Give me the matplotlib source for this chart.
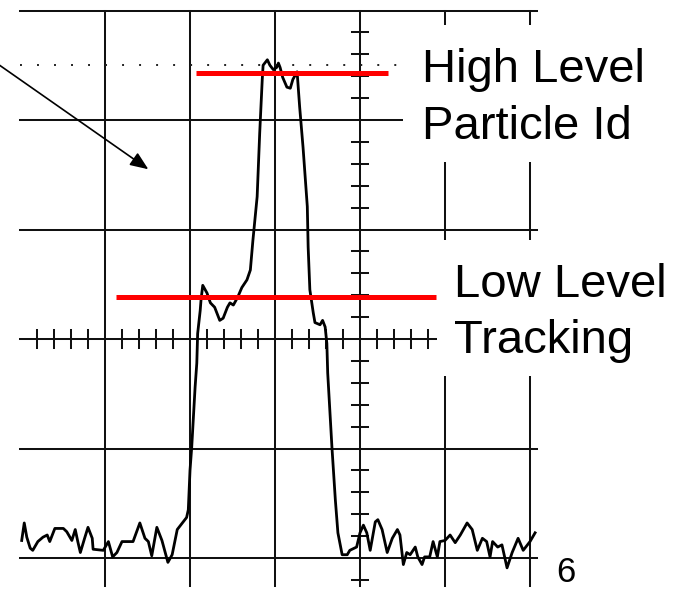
import numpy as np
import matplotlib
matplotlib.use("Agg")
import matplotlib.pyplot as plt
from matplotlib.patches import Rectangle, FancyArrowPatch

# ------------------------------------------------------------------
# DATA (scope divisions, centre of screen = 0,0)
# ------------------------------------------------------------------
t = [-3.98, -3.95, -3.92, -3.88, -3.85, -3.79, -3.73, -3.68, -3.65, -3.59,
     -3.49, -3.45, -3.39, -3.35, -3.32, -3.29, -3.24, -3.20, -3.15, -3.14,
     -3.02, -2.96, -2.91, -2.86, -2.80, -2.67, -2.59, -2.53, -2.49, -2.45,
     -2.39, -2.33, -2.26, -2.21, -2.15, -2.09, -2.04, -2.02, -2.01, -2.00,
     -1.98, -1.96, -1.94, -1.92, -1.91, -1.88, -1.87, -1.85, -1.80, -1.76,
     -1.71, -1.65, -1.61, -1.56, -1.53, -1.49, -1.44, -1.39, -1.33, -1.29,
     -1.26, -1.21, -1.18, -1.15, -1.14, -1.09, -1.06, -1.02, -0.98, -0.96,
     -0.94, -0.91, -0.86, -0.82, -0.79, -0.74, -0.71, -0.67, -0.62, -0.61,
     -0.59, -0.55, -0.53, -0.47, -0.44, -0.41, -0.39, -0.38, -0.33, -0.29,
     -0.26, -0.21, -0.15, -0.12, -0.04, 0.00, 0.04, 0.08, 0.12, 0.18,
     0.21, 0.26, 0.32, 0.38, 0.44, 0.47, 0.51, 0.55, 0.59, 0.65,
     0.68, 0.73, 0.76, 0.82, 0.86, 0.91, 0.94, 1.00, 1.06, 1.12,
     1.18, 1.26, 1.32, 1.38, 1.44, 1.49, 1.53, 1.56, 1.62, 1.67,
     1.73, 1.79, 1.86, 1.92, 2.00, 2.06]
v = [-1.84, -1.68, -1.81, -1.91, -1.93, -1.85, -1.81, -1.79, -1.85, -1.73,
     -1.73, -1.76, -1.84, -1.74, -1.85, -1.95, -1.82, -1.72, -1.82, -1.92,
     -1.93, -1.85, -1.99, -1.95, -1.85, -1.85, -1.68, -1.82, -1.85, -1.98,
     -1.72, -1.84, -2.04, -1.97, -1.74, -1.68, -1.63, -1.56, -1.38, -1.20,
     -0.99, -0.71, -0.44, -0.22, 0.05, 0.26, 0.36, 0.49, 0.42, 0.33,
     0.29, 0.17, 0.19, 0.29, 0.33, 0.31, 0.38, 0.47, 0.54, 0.63,
     0.90, 1.30, 1.88, 2.37, 2.50, 2.55, 2.50, 2.46, 2.48, 2.52,
     2.48, 2.39, 2.30, 2.29, 2.37, 2.44, 2.12, 1.75, 1.21, 0.84,
     0.45, 0.24, 0.15, 0.13, 0.17, 0.11, -0.04, -0.31, -0.99, -1.47,
     -1.77, -1.97, -1.97, -1.93, -1.90, -1.77, -1.70, -1.77, -1.93, -1.67,
     -1.65, -1.74, -1.95, -1.82, -1.74, -1.79, -2.06, -1.95, -1.97, -1.90,
     -1.99, -2.06, -1.99, -1.99, -1.85, -1.99, -1.85, -1.84, -1.79, -1.86,
     -1.79, -1.68, -1.74, -1.93, -1.82, -1.85, -1.99, -1.85, -1.90, -1.88,
     -2.09, -1.95, -1.82, -1.93, -1.85, -1.77]

high_level = 2.43
high_span = (-1.93, 0.33)
low_level = 0.38
low_span = (-2.87, 0.89)
ref_level = 2.5

labels_high = ["High Level", "Particle Id"]
labels_low = ["Low Level", "Tracking"]
page_number = "6"

# ------------------------------------------------------------------
# FIGURE
# ------------------------------------------------------------------
plt.rcParams["font.family"] = ["Liberation Sans", "DejaVu Sans"]

fig = plt.figure(figsize=(6.87, 5.89), dpi=100)
ax = fig.add_axes([0, 0, 1, 1])
ax.set_xlim(-360 / 85, 327 / 85)
ax.set_ylim(-250 / 109.5, 339 / 109.5)
ax.axis("off")

grid_kw = dict(color="#111111", lw=1.45, zorder=1)
x_right = 2.08
y_bottom = -2.26

# major grid
for y in [3, 2, 1, 0, -1, -2]:
    ax.plot([-4, x_right], [y, y], **grid_kw)
for x in [-3, -2, -1, 0, 1, 2]:
    ax.plot([x, x], [y_bottom, 3], **grid_kw)

# minor ticks on centre axes
for x in np.arange(-3.8, 0.85, 0.2):
    if abs(x - round(x)) > 0.05:
        ax.plot([x, x], [-0.085, 0.085], **grid_kw)
for y in np.arange(-2.2, 3.0, 0.2):
    if abs(y - round(y)) > 0.05:
        ax.plot([-0.095, 0.095], [y, y], **grid_kw)

# reference dotted line
ax.plot([-4, 0.45], [ref_level, ref_level], color="#222222", lw=1.4,
        linestyle=(0, (1, 7.75)), zorder=1)

# white boxes behind the labels
ax.add_patch(Rectangle((0.51, 1.62), 4, 1.25, facecolor="white",
                       edgecolor="none", zorder=2))
ax.add_patch(Rectangle((0.91, -0.34), 4, 1.24, facecolor="white",
                       edgecolor="none", zorder=2))

# trace
ax.plot(t, v, color="black", lw=2.0, zorder=3)

# threshold lines
ax.plot(high_span, [high_level, high_level], color="#ff0000", lw=3.6,
        solid_capstyle="butt", zorder=4)
ax.plot(low_span, [low_level, low_level], color="#ff0000", lw=3.6,
        solid_capstyle="butt", zorder=4)

# arrow
arrow = FancyArrowPatch((-4.24, 2.50), (-2.49, 1.55),
                        arrowstyle="-|>,head_length=1.1,head_width=0.45",
                        mutation_scale=10, color="black", lw=1.2,
                        shrinkA=0, shrinkB=0, zorder=5)
ax.add_patch(arrow)

# labels
ax.text(0.73, 2.347, labels_high[0], fontsize=34, va="baseline", zorder=6)
ax.text(0.73, 1.826, labels_high[1], fontsize=34, va="baseline", zorder=6)
ax.text(1.105, 0.384, labels_low[0], fontsize=34, va="baseline", zorder=6)
ax.text(1.105, -0.128, labels_low[1], fontsize=34, va="baseline", zorder=6)
ax.text(2.31, -2.22, page_number, fontsize=25, va="baseline", zorder=6)

fig.savefig("out.png", dpi=100)
